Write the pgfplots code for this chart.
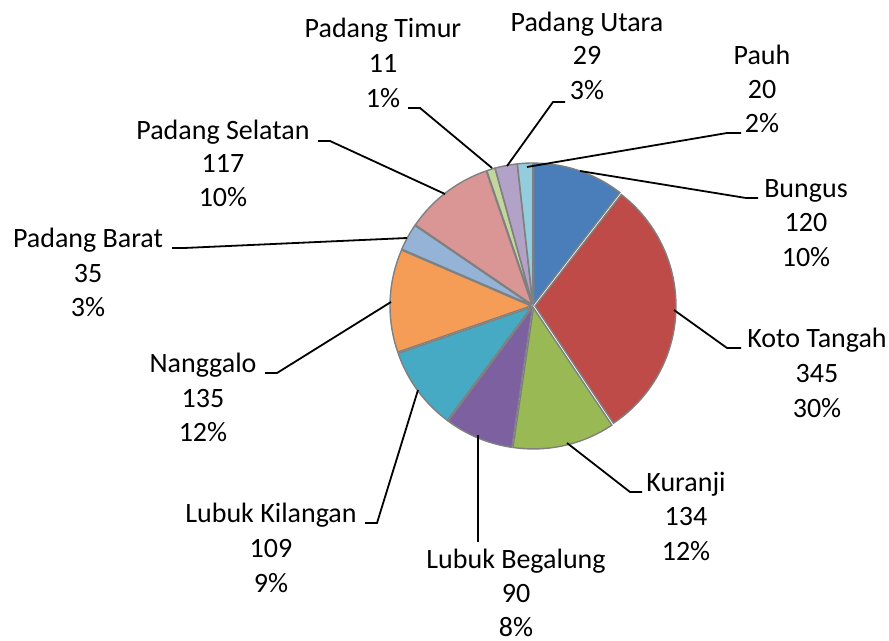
\documentclass[border=0pt]{standalone}
\usepackage{fontspec}
\setmainfont{Carlito}
\usepackage{pgfplots}
\pgfplotsset{compat=1.18}
\definecolor{cBungus}{HTML}{4A7EBB}
\definecolor{cKoto}{HTML}{BE4B48}
\definecolor{cKuranji}{HTML}{98B954}
\definecolor{cBegalung}{HTML}{7D60A0}
\definecolor{cKilangan}{HTML}{46AAC5}
\definecolor{cNanggalo}{HTML}{F59D56}
\definecolor{cBarat}{HTML}{95B3D7}
\definecolor{cSelatan}{HTML}{D99694}
\definecolor{cTimur}{HTML}{C3D69B}
\definecolor{cUtara}{HTML}{B3A2C7}
\definecolor{cPauh}{HTML}{93CDDD}
\newcommand\lblfont{\fontsize{14pt}{17pt}\selectfont}
\newcommand\lbl[7]{%
  \node[anchor=base,inner sep=0pt,font=\lblfont] at (axis cs:#1,#2) {#5};
  \node[anchor=base,inner sep=0pt,font=\lblfont] at (axis cs:#1,#3) {#6};
  \node[anchor=base,inner sep=0pt,font=\lblfont] at (axis cs:#1,#4) {#7};
}
\begin{document}
\begin{tikzpicture}
\begin{axis}[scale only axis, width=444.5pt, height=320.5pt,
  xmin=0, xmax=889, ymin=0, ymax=641, y dir=reverse,
  hide axis, clip=false]
% values (total 1145), drawn clockwise from 12 o'clock
\gdef\startang{90}
\foreach \v/\c in {120/cBungus, 345/cKoto, 134/cKuranji, 90/cBegalung,
                   109/cKilangan, 135/cNanggalo, 35/cBarat, 117/cSelatan,
                   11/cTimur, 29/cUtara, 20/cPauh} {
  \pgfmathsetmacro\endang{\startang - (360/1145)*\v}
  \pgfmathsetmacro\midang{(\startang+\endang)/2}
  \edef\temp{\noexpand\fill[fill=\c, draw=black!50, line width=0.7pt,
     shift={(\midang:1pt)}] (axis cs:533,306) -- +(\startang:70.5pt)
     arc[start angle=\startang, end angle=\endang, radius=70.5pt] -- cycle;}
  \temp
  \xdef\startang{\endang}
}
% leader lines
\draw[black, line width=0.9pt] (axis cs:741,133) -- (axis cs:727,133) -- (axis cs:527,167);
\draw[black, line width=0.9pt] (axis cs:565,102) -- (axis cs:553,102) -- (axis cs:507,166);
\draw[black, line width=0.9pt] (axis cs:408,108) -- (axis cs:420,108) -- (axis cs:492,168);
\draw[black, line width=0.9pt] (axis cs:318,141) -- (axis cs:330,141) -- (axis cs:445,194);
\draw[black, line width=0.9pt] (axis cs:172,248) -- (axis cs:184,248) -- (axis cs:407,238);
\draw[black, line width=0.9pt] (axis cs:265,373) -- (axis cs:277,373) -- (axis cs:391,302);
\draw[black, line width=0.9pt] (axis cs:365,523) -- (axis cs:377,523) -- (axis cs:418,390);
\draw[black, line width=0.9pt] (axis cs:478,542) -- (axis cs:478,435);
\draw[black, line width=0.9pt] (axis cs:642,492) -- (axis cs:630,492) -- (axis cs:567,443);
\draw[black, line width=0.9pt] (axis cs:741,348) -- (axis cs:727,348) -- (axis cs:674,310);
\draw[black, line width=0.9pt] (axis cs:758,198) -- (axis cs:746,198) -- (axis cs:580,171);
% labels
\lbl{762}{65}{99}{133}{Pauh}{20}{2\%}
\lbl{587}{32}{65}{100}{Padang Utara}{29}{3\%}
\lbl{383}{38}{73}{108}{Padang Timur}{11}{1\%}
\lbl{223}{140}{173}{207}{Padang Selatan}{117}{10\%}
\lbl{88}{248}{283}{317}{Padang Barat}{35}{3\%}
\lbl{203}{373}{408}{442}{Nanggalo}{135}{12\%}
\lbl{271}{523}{558}{592}{Lubuk Kilangan}{109}{9\%}
\lbl{516}{568}{602}{636}{Lubuk Begalung}{90}{8\%}
\lbl{686}{492}{525}{560}{Kuranji}{134}{12\%}
\lbl{817}{348}{383}{418}{Koto Tangah}{345}{30\%}
\lbl{806}{198}{232}{267}{Bungus}{120}{10\%}
\end{axis}
\pgfresetboundingbox
\useasboundingbox (current axis.south west) rectangle (current axis.north east);
\end{tikzpicture}
\end{document}
